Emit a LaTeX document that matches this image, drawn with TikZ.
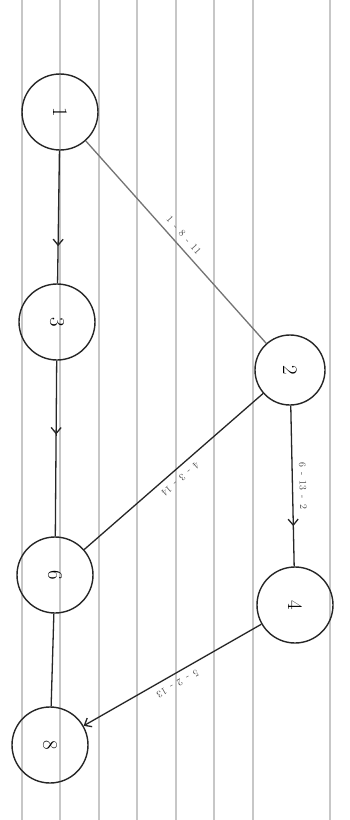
\documentclass[tikz,border=0pt]{standalone}
\usepackage{amsmath, amssymb}
\usepackage{tikz}
\usetikzlibrary{arrows.meta, positioning, decorations.markings}

\newcommand{\trip}[3]{#1\enspace-\enspace#2\enspace-\enspace#3}

\begin{document}
\begin{tikzpicture}[
    x=1pt, y=-1pt,
    vertex/.style={circle, draw=black!85, line width=1.4pt, minimum size=76pt, inner sep=0pt, font=\huge, rotate=-90},
    link/.style={line width=1.3pt, black!85},
    midarrow/.style={link, postaction={decorate}, decoration={markings,
        mark=at position #1 with {\arrow{Straight Barb[length=6pt, width=10pt]}}}},
    endarrow/.style={link, -{Straight Barb[length=6pt, width=10pt]}},
    lbl/.style={midway, sloped, allow upside down, above=3pt, font=\normalsize, text=black!70}
]
    % paper
    \useasboundingbox (0,0) rectangle (350,820);
    \fill[white] (0,0) rectangle (350,820);
    \foreach \x in {22,60,99,137,176,214,253,330}
        \draw[black!22, line width=1.4pt] (\x,0) -- (\x,820);

    \node[vertex] (n1) at (60,112) {1};
    \node[vertex] (n3) at (57,322) {3};
    \node[vertex] (n6) at (55,575) {6};
    \node[vertex] (n8) at (50,745) {8};
    \node[vertex, minimum size=70pt] (n2) at (290,370) {2};
    \node[vertex] (n4) at (295,605) {4};

    \draw[midarrow=0.72] (n1) -- (n3);
    \draw[midarrow=0.42] (n3) -- (n6);
    \draw[link] (n6) -- (n8);
    \draw[link, black!55] (n1) -- node[lbl] {\trip{1}{8}{11}} (n2);
    \draw[link] (n2) -- node[lbl] {\trip{4}{3}{14}} (n6);
    \draw[midarrow=0.75] (n2) -- node[lbl] {\trip{6}{13}{2}} (n4);
    \draw[endarrow] (n4) -- node[lbl] {\trip{5}{2}{13}} (n8);
\end{tikzpicture}
\end{document}
